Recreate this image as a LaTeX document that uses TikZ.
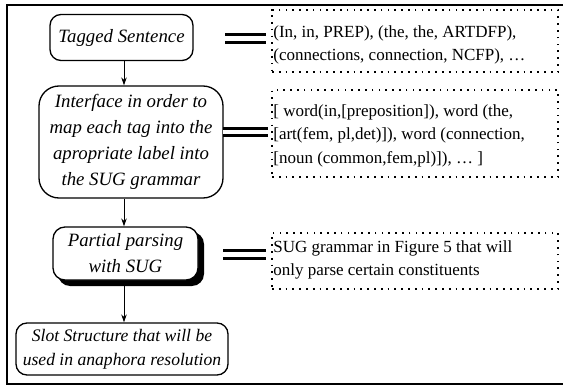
\documentclass[tikz,border=0pt]{standalone}
\usepackage{fontspec}
\setmainfont{Liberation Serif}
\usetikzlibrary{arrows.meta,calc}
\begin{document}
\begin{tikzpicture}[x=1pt,y=-1pt,
  flow/.style={draw, line width=1.3pt, rounded corners=#1, inner sep=0pt, align=center,
    font=\fontsize{18.8}{26}\selectfont\itshape},
  flow/.default=10pt,
  dotbox/.style={draw, line width=1.7pt, dash pattern=on 1.7pt off 5.1pt, inner sep=0pt},
  dottext/.style={inner sep=0pt, anchor=north west, align=left,
    font=\fontsize{17}{23.5}\selectfont},
  arr/.style={line width=1pt, -{Stealth[length=8pt,width=5.5pt]}},
  eq/.style={line width=2.6pt, double distance=5pt}
]
\useasboundingbox (0,0) rectangle (563,388);
% outer frame
\draw[line width=1.8pt] (7,5) rectangle (600,384);

% left flow nodes
\node[flow=11pt, minimum width=143pt, minimum height=46pt] (tag) at (121.5,37.5) {Tagged Sentence};
\node[flow=20pt, minimum width=184pt, minimum height=112pt] (int) at (131,142)
  {Interface in order to\\map each tag into the\\apropriate label into\\the SUG grammar};
\fill[rounded corners=12pt] (58,232) rectangle (204,286);
\node[flow=12pt, fill=white, minimum width=145pt, minimum height=53pt] (par) at (125.5,253.5)
  {Partial parsing\\with SUG};
\node[flow=11pt, minimum width=212pt, minimum height=52pt,
  font=\fontsize{17.6}{24}\selectfont\itshape] (slot) at (122,349)
  {Slot Structure that will be\\used in anaphora resolution};

% arrows
\coordinate (ax) at (124,0);
\draw[arr] (tag.south -| ax) -- (int.north -| ax);
\draw[arr] (int.south -| ax) -- (par.north -| ax);
\draw[arr] (par.south -| ax) -- (slot.north -| ax);

% dotted boxes
\node[dotbox, minimum width=286pt, minimum height=62pt] (d1) at (415,41) {};
\node[dotbox, minimum width=286pt, minimum height=87pt] (d2) at (415,133.5) {};
\node[dotbox, minimum width=286pt, minimum height=56pt] (d3) at (415,261) {};

\node[dottext] (t1) at ($(d1.north west)+(2,16)$)
  {(In, in, PREP), (the, the, ARTDFP),\\(connections, connection, NCFP), \dots};
\node[dottext] (t2) at ($(d2.north west)+(2,15)$)
  {[ word(in,[preposition]), word (the,\\{}[art(fem, pl,det)]), word (connection,\\{}[noun (common,fem,pl)]), \dots\ ]};
\node[dottext] (t3) at ($(d3.north west)+(2,8)$)
  {SUG grammar in Figure 5 that will\\only parse certain constituents};

% equal-sign connectors
\coordinate (e1l) at (225,38.5);
\coordinate (e1r) at (266,38.5);
\coordinate (e2l) at (223,132);
\coordinate (e2r) at (268,132);
\coordinate (e3l) at (223,254.5);
\coordinate (e3r) at (266,254.5);
\draw[eq] (e1l) -- (e1r);
\draw[eq, double distance=4.4pt] (e2l) -- (e2r);
\draw[eq] (e3l) -- (e3r);
\end{tikzpicture}
\end{document}
